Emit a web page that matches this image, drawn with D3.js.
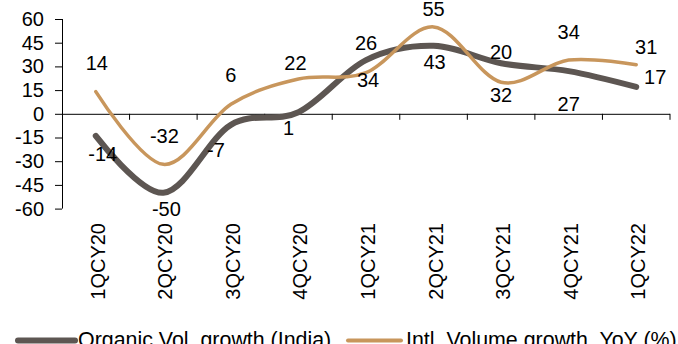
<!DOCTYPE html>
<html>
<head>
<meta charset="utf-8">
<script src="https://cdn.jsdelivr.net/npm/d3@7"></script>
<style>
  html, body { margin: 0; padding: 0; background: #fff; }
  svg { display: block; font-family: "Liberation Sans", Arial, sans-serif; }
</style>
</head>
<body>
<svg id="chart" width="678" height="344"></svg>
<script>
// Quarterly volume growth, YoY (%)
const quarters = ["1QCY20", "2QCY20", "3QCY20", "4QCY20", "1QCY21", "2QCY21", "3QCY21", "4QCY21", "1QCY22"];
const organicIndia = [-14, -50, -7, 1, 34, 43, 32, 27, 17];
const intlVolume = [14, -32, 6, 22, 26, 55, 20, 34, 31];
const yTicks = [-60, -45, -30, -15, 0, 15, 30, 45, 60];
const seriesNames = ["Organic Vol. growth (India)", "Intl. Volume growth, YoY (%)"];

// Hand-placed value label offsets (px) relative to each point
const organicLabelDx = [7, 3, -15, -10, 2, 1, 0, 0, 19];
const organicLabelDy = [18, 16, 25, 16, 20, 16, 32, 33, -10];
const intlLabelDx = [1, 1, 0, -3, 0, 0, 0, 0, 10];
const intlLabelDy = [-29, -28, -29, -16, -30, -18, -30, -28, -18];

const colors = { organic: "#5d5652", intl: "#c8965c" };
const fmt = d => String(d);  // plain hyphen-minus for negatives

const svg = d3.select("#chart");
const plotLeft = 62, plotRight = 670, plotTop = 19, plotBottom = 208.6;

const x = d3.scaleBand().domain(quarters).range([plotLeft, plotRight]).padding(0);
const cx = d => x(d) + x.bandwidth() / 2;
const y = d3.scaleLinear().domain([-60, 60]).range([plotBottom, plotTop]);

// y axis
const yAxis = d3.axisLeft(y).tickValues(yTicks).tickSize(7).tickPadding(11).tickFormat(fmt);
const gy = svg.append("g").attr("transform", `translate(${plotLeft},0)`).call(yAxis);
gy.select(".domain").attr("stroke", "#000").attr("d", `M0.5,${plotTop}V${plotBottom}`);
gy.selectAll(".tick line").attr("stroke", "#000");
gy.selectAll(".tick text")
  .attr("font-size", 20).attr("fill", "#000")
  .attr("font-family", "'Liberation Sans', Arial, sans-serif");

// category axis on the zero line
const xAxis = d3.axisBottom(x).tickSize(0).tickFormat("");
const gx = svg.append("g").attr("transform", `translate(0,${y(0)})`).call(xAxis);
gx.select(".domain").attr("stroke", "#000").attr("d", `M${plotLeft},0.5H${plotRight}`);
const boundaries = quarters.map(q => x(q) + x.bandwidth());
gx.selectAll(".bnd").data(boundaries).enter().append("line")
  .attr("x1", d => d).attr("x2", d => d)
  .attr("y1", 0).attr("y2", 6)
  .attr("stroke", "#000");

// rotated category labels below the plot
svg.append("g").selectAll("text").data(quarters).enter().append("text")
  .attr("transform", d => `translate(${cx(d) + 2},223) rotate(-90)`)
  .attr("text-anchor", "end")
  .attr("dy", "0.35em")
  .attr("font-size", 20)
  .attr("fill", "#000")
  .text(d => d);

// smoothed series lines
const line = d3.line()
  .x((d, i) => cx(quarters[i]))
  .y(d => y(d))
  .curve(d3.curveCatmullRom.alpha(0));

svg.append("path").datum(organicIndia)
  .attr("d", line).attr("fill", "none")
  .attr("stroke", colors.organic).attr("stroke-width", 6)
  .attr("stroke-linecap", "round").attr("stroke-linejoin", "round");

svg.append("path").datum(intlVolume)
  .attr("d", line).attr("fill", "none")
  .attr("stroke", colors.intl).attr("stroke-width", 3.5)
  .attr("stroke-linecap", "round").attr("stroke-linejoin", "round");

// value labels
function labels(values, dxs, dys) {
  svg.append("g").selectAll("text").data(values).enter().append("text")
    .attr("x", (d, i) => cx(quarters[i]) + dxs[i])
    .attr("y", (d, i) => y(d) + dys[i])
    .attr("dy", "0.35em")
    .attr("text-anchor", "middle")
    .attr("font-size", 20)
    .attr("fill", "#000")
    .text(fmt);
}
labels(intlVolume, intlLabelDx, intlLabelDy);
labels(organicIndia, organicLabelDx, organicLabelDy);

// legend
const legend = svg.append("g");
const legendItems = [
  { name: seriesNames[0], color: colors.organic, width: 6, x0: 18, x1: 75, tx: 78 },
  { name: seriesNames[1], color: colors.intl, width: 4, x0: 348, x1: 401, tx: 406 }
];
legendItems.forEach(it => {
  legend.append("line")
    .attr("x1", it.x0).attr("x2", it.x1)
    .attr("y1", 340.5).attr("y2", 340.5)
    .attr("stroke", it.color).attr("stroke-width", it.width)
    .attr("stroke-linecap", "round");
  legend.append("text")
    .attr("x", it.tx).attr("y", 347)
    .attr("font-size", 21.4).attr("fill", "#000")
    .text(it.name);
});
</script>
</body>
</html>
